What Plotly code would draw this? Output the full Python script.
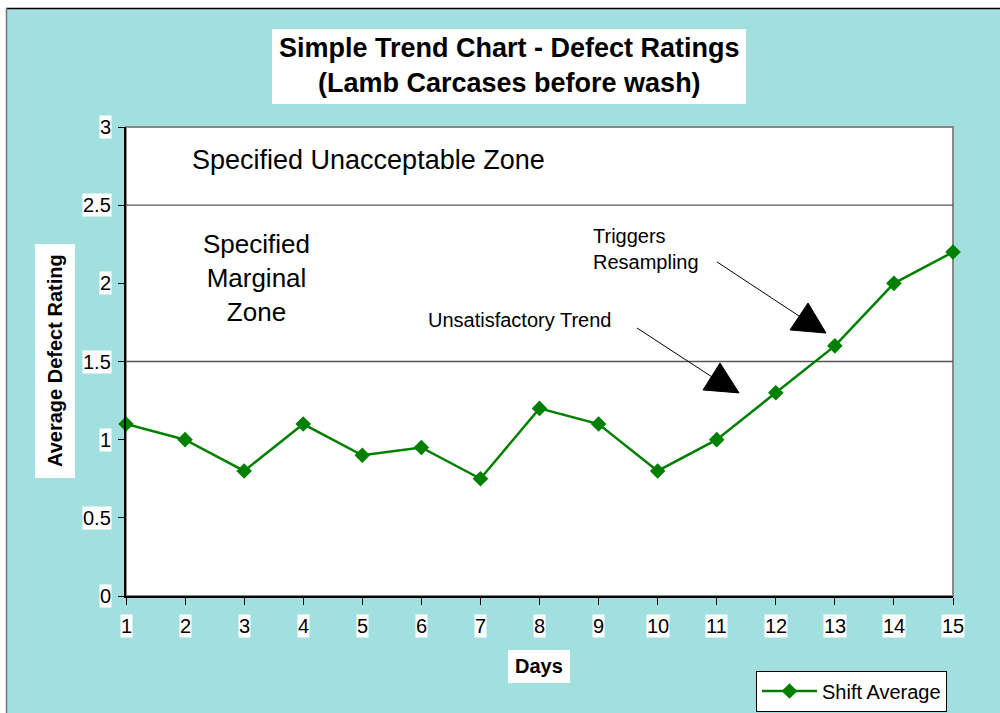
import plotly.graph_objects as go

# ---- data ----
days = list(range(1, 16))
shift_average = [1.1, 1.0, 0.8, 1.1, 0.9, 0.95, 0.75, 1.2, 1.1, 0.8, 1.0, 1.3, 1.6, 2.0, 2.2]
y_ticks = [0, 0.5, 1, 1.5, 2, 2.5, 3]
y_tick_labels = ["0", "0.5", "1", "1.5", "2", "2.5", "3"]
x_tick_labels = [str(d) for d in days]
zone_limits = [1.5, 2.5]

FONT = "Arial, Liberation Sans, sans-serif"
CYAN = "#A2DFDF"
GREEN = "#008000"

W, H = 1000, 713
L, R, T, B = 126, 953, 127, 596


def px(xp):
    return (xp - L) / (R - L)


def py(yp):
    return (B - yp) / (B - T)


fig = go.Figure()
fig.add_trace(go.Scatter(
    x=days, y=shift_average, mode="lines+markers", name="Shift Average",
    line=dict(color=GREEN, width=2.5),
    marker=dict(symbol="diamond", size=12, color=GREEN),
    cliponaxis=False,
))

shapes = []
# white outer strips and frame lines
shapes.append(dict(type="rect", xref="paper", yref="paper", x0=px(-10), x1=px(1010),
                   y0=py(8), y1=py(-10), fillcolor="white", line=dict(width=0), layer="below"))
shapes.append(dict(type="rect", xref="paper", yref="paper", x0=px(-10), x1=px(6),
                   y0=py(720), y1=py(-10), fillcolor="white", line=dict(width=0), layer="below"))
shapes.append(dict(type="line", xref="paper", yref="paper", x0=px(6), x1=px(1010),
                   y0=py(8.5), y1=py(8.5), line=dict(color="black", width=1.5)))
shapes.append(dict(type="line", xref="paper", yref="paper", x0=px(6.5), x1=px(6.5),
                   y0=py(8), y1=py(720), line=dict(color="#777777", width=1.5)))
# plot area border (gray top/right)
shapes.append(dict(type="rect", xref="x domain", yref="y domain", x0=0, x1=1, y0=0, y1=1,
                   line=dict(color="#888888", width=2), layer="below"))
# zone boundaries
for z in zone_limits:
    shapes.append(dict(type="line", xref="x domain", yref="y", x0=0, x1=1, y0=z, y1=z,
                       line=dict(color="#555555", width=1.3), layer="below"))
# title / axis title boxes
for (x0, x1, y0, y1) in [(272, 746, 29, 104), (35, 75, 244, 478), (508, 570, 650, 683)]:
    shapes.append(dict(type="rect", xref="paper", yref="paper", x0=px(x0), x1=px(x1),
                       y0=py(y1), y1=py(y0), fillcolor="white", line=dict(width=0)))
# callout lines and triangles (data coords)
shapes.append(dict(type="line", xref="x", yref="y", x0=11.005, y0=2.137, x1=12.393, y1=1.791,
                   line=dict(color="black", width=1)))
shapes.append(dict(type="path", xref="x", yref="y",
                   path="M 12.546,1.874 L 12.241,1.702 L 12.850,1.682 Z",
                   fillcolor="black", line=dict(color="black", width=1)))
shapes.append(dict(type="line", xref="x", yref="y", x0=9.651, y0=1.714, x1=10.921, y1=1.401,
                   line=dict(color="black", width=1)))
shapes.append(dict(type="path", xref="x", yref="y",
                   path="M 11.056,1.490 L 10.768,1.318 L 11.378,1.299 Z",
                   fillcolor="black", line=dict(color="black", width=1)))

ann = []
ann.append(dict(xref="paper", yref="paper", x=px(509), y=py(65), xanchor="center", yanchor="middle",
                text="<b>Simple Trend Chart - Defect Ratings<br>(Lamb Carcases before wash)</b>",
                showarrow=False, font=dict(family=FONT, size=27, color="black")))
ann.append(dict(xref="paper", yref="paper", x=px(55), y=py(361), xanchor="center", yanchor="middle",
                text="<b>Average Defect Rating</b>", textangle=-90,
                showarrow=False, font=dict(family=FONT, size=20, color="black")))
ann.append(dict(xref="paper", yref="paper", x=px(539), y=py(666), xanchor="center", yanchor="middle",
                text="<b>Days</b>", showarrow=False, font=dict(family=FONT, size=20, color="black")))
ann.append(dict(xref="paper", yref="paper", x=px(368), y=py(160), xanchor="center", yanchor="middle",
                text="Specified Unacceptable Zone", showarrow=False,
                font=dict(family=FONT, size=27, color="black")))
ann.append(dict(xref="paper", yref="paper", x=px(256), y=py(278), xanchor="center", yanchor="middle",
                text="Specified<br>Marginal<br>Zone", showarrow=False, align="center",
                font=dict(family=FONT, size=26, color="black")))
ann.append(dict(xref="paper", yref="paper", x=px(519), y=py(320), xanchor="center", yanchor="middle",
                text="Unsatisfactory Trend", showarrow=False,
                font=dict(family=FONT, size=20, color="black")))
ann.append(dict(xref="paper", yref="paper", x=px(591), y=py(249), xanchor="left", yanchor="middle",
                text="Triggers<br>Resampling", showarrow=False, align="left",
                font=dict(family=FONT, size=20, color="black")))
# tick labels with white backgrounds
for d, lab in zip(days, x_tick_labels):
    ann.append(dict(xref="x", yref="paper", x=d, y=py(626), xanchor="center", yanchor="middle",
                    text=lab, showarrow=False, bgcolor="white", borderpad=0,
                    font=dict(family=FONT, size=20, color="black")))
for v, lab in zip(y_ticks, y_tick_labels):
    ann.append(dict(xref="paper", yref="y", x=px(111.5), y=v, xanchor="right", yanchor="middle",
                    text=lab, showarrow=False, bgcolor="white", borderpad=0,
                    font=dict(family=FONT, size=20, color="black")))

fig.update_layout(
    width=W, height=H,
    margin=dict(l=L, r=W - R, t=T, b=H - B, autoexpand=False),
    paper_bgcolor=CYAN, plot_bgcolor="white",
    font=dict(family=FONT, size=20, color="black"),
    shapes=shapes, annotations=ann,
    showlegend=True,
    legend=dict(x=px(947), y=py(691), xanchor="right", yanchor="middle",
                bgcolor="white", bordercolor="black", borderwidth=1,
                font=dict(family=FONT, size=20, color="black"), itemwidth=55,
                tracegroupgap=0),
    xaxis=dict(range=[1, 15], tickvals=days, showticklabels=False, ticks="outside", ticklen=7,
               tickcolor="black", tickwidth=1, showgrid=False, zeroline=False,
               showline=True, linecolor="black", linewidth=1.5, fixedrange=True),
    yaxis=dict(range=[0, 3], tickvals=y_ticks, showticklabels=False, ticks="outside", ticklen=6,
               tickcolor="black", tickwidth=1, showgrid=False, zeroline=False,
               showline=True, linecolor="black", linewidth=1.5, fixedrange=True),
)

fig.write_html(
    "out.html",
    config={"displayModeBar": False},
    post_script="document.body.style.margin='0';document.body.style.overflow='hidden';",
)
